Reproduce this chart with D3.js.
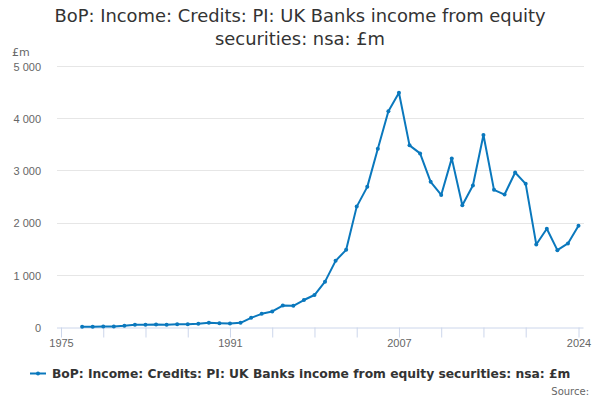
<!DOCTYPE html>
<html><head><meta charset="utf-8">
<script src="https://cdn.jsdelivr.net/npm/d3@7"></script>
<style>body{margin:0;background:#fff}svg{display:block;font-family:"DejaVu Sans",sans-serif}</style>
</head><body><svg id="c" width="600" height="400"></svg>
<script>
const years = d3.range(1977, 2025);
const values = [13,13,19,19,32,51,51,57,51,64,64,70,89,83,77,89,185,262,307,421,415,
  526,622,878,1276,1487,2314,2692,3423,4141,4494,3487,3333,2788,2538,3237,2340,2718,3686,
  2635,2545,2968,2750,1590,1891,1481,1609,1949];
const yTicks = [0,1000,2000,3000,4000,5000];
const xTickYears = [1975,1979,1983,1987,1991,1995,1999,2003,2007,2011,2015,2019,2024];
const xLabelYears = [1975,1991,2007,2024];
const titleLines = ["BoP: Income: Credits: PI: UK Banks income from equity","securities: nsa: £m"];
const seriesName = "BoP: Income: Credits: PI: UK Banks income from equity securities: nsa: £m";
const data = years.map((y,i)=>({year:y,value:values[i]}));

const svg = d3.select("#c");
const color = "#0a78bd";
const x = d3.scaleLinear().domain([1975,2024]).range([61,578.5]);
const y = d3.scaleLinear().domain([0,5000]).range([327.5,66.3]);
const fmt = v => d3.format(",")(v).replace(/,/g," ");

// title
svg.append("text").attr("x",300).attr("text-anchor","middle").attr("fill","#333")
  .style("font-size","17.9px")
  .selectAll("tspan").data(titleLines).join("tspan")
  .attr("x",300).attr("y",(d,i)=>22+i*23).text(d=>d);

// gridlines
svg.append("g").selectAll("line").data(yTicks.filter(d=>d>0)).join("line")
  .attr("x1",57).attr("x2",583.5).attr("y1",d=>y(d)).attr("y2",d=>y(d))
  .attr("stroke","#e6e6e6").attr("stroke-width",1).attr("shape-rendering","crispEdges");

// y axis labels
const yAxis = d3.axisLeft(y).tickValues(yTicks).tickSize(0).tickFormat(fmt);
const gy = svg.append("g").attr("transform","translate(45,0)").call(yAxis);
gy.select(".domain").remove();
gy.selectAll("text").attr("fill","#666").style("font-size","11px").attr("x",-4).attr("dy","0.35em");

svg.append("text").attr("x",12).attr("y",56).attr("fill","#666").style("font-size","11px").text("£m");

// x axis
const xAxis = d3.axisBottom(x).tickValues(xTickYears).tickSize(10).tickFormat(d=>xLabelYears.includes(d)?d:"");
const gx = svg.append("g").attr("transform","translate(0,327.5)").call(xAxis);
gx.select(".domain").attr("d","M57,0.5H583.5").attr("stroke","#ccd6eb");
gx.selectAll(".tick line").attr("stroke","#ccd6eb");
gx.selectAll("text").attr("fill","#666").style("font-size","11px").attr("y",12);

// line
svg.append("path").datum(data)
  .attr("d",d3.line().x(d=>x(d.year)).y(d=>y(d.value)))
  .attr("fill","none").attr("stroke",color).attr("stroke-width",2).attr("stroke-linejoin","round");
svg.append("g").selectAll("circle").data(data).join("circle")
  .attr("cx",d=>x(d.year)).attr("cy",d=>y(d.value)).attr("r",2).attr("fill",color);

// legend
const lg = svg.append("g").attr("transform","translate(0,373.5)");
lg.append("line").attr("x1",30).attr("x2",46).attr("y1",0).attr("y2",0).attr("stroke",color).attr("stroke-width",2);
lg.append("circle").attr("cx",38).attr("cy",0).attr("r",2).attr("fill",color);
lg.append("text").attr("x",52).attr("y",4.5).attr("fill","#333").style("font-size","12.3px").style("font-weight","bold").text(seriesName);

svg.append("text").attr("x",589).attr("y",395).attr("text-anchor","end").attr("fill","#666").style("font-size","10px").text("Source:");
</script></body></html>
